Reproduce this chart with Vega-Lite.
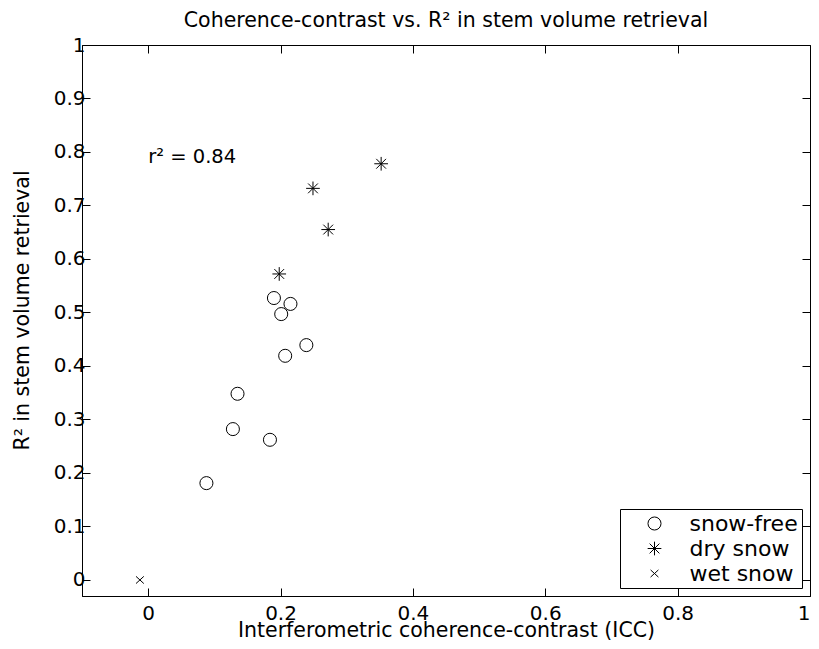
{
  "$schema": "https://vega.github.io/schema/vega-lite/v6.json",
  "width": 728,
  "height": 551,
  "autosize": {"type": "none"},
  "padding": {"left": 82, "top": 45, "right": 9, "bottom": 53},
  "background": "white",
  "title": {
    "text": "Coherence-contrast vs. R² in stem volume retrieval",
    "font": "DejaVu Sans",
    "fontSize": 20.5,
    "fontWeight": "normal",
    "color": "black",
    "offset": 4,
    "anchor": "middle"
  },
  "config": {
    "view": {"stroke": "black", "strokeWidth": 1},
    "axis": {
      "grid": false,
      "domainColor": "black",
      "tickColor": "black",
      "tickSize": -8,
      "labelFont": "DejaVu Sans",
      "labelFontSize": 20,
      "labelColor": "black",
      "titleFont": "DejaVu Sans",
      "titleFontSize": 20.5,
      "titleFontWeight": "normal",
      "titleColor": "black"
    },
    "legend": {
      "orient": "bottom-right",
      "offset": 8,
      "strokeColor": "black",
      "fillColor": "white",
      "padding": 3.5,
      "labelFont": "DejaVu Sans",
      "labelFontSize": 22,
      "labelColor": "black",
      "labelOffset": 24,
      "symbolOffset": 20,
      "symbolStrokeColor": "black",
      "symbolFillColor": "transparent",
      "symbolStrokeWidth": 1,
      "symbolSize": 170,
      "rowPadding": 3
    }
  },
  "datasets": {
    "pts": [
      {"icc": 0.352, "r2": 0.778, "cond": "dry snow"},
      {"icc": 0.249, "r2": 0.732, "cond": "dry snow"},
      {"icc": 0.272, "r2": 0.655, "cond": "dry snow"},
      {"icc": 0.198, "r2": 0.572, "cond": "dry snow"},
      {"icc": 0.190, "r2": 0.527, "cond": "snow-free"},
      {"icc": 0.215, "r2": 0.516, "cond": "snow-free"},
      {"icc": 0.201, "r2": 0.497, "cond": "snow-free"},
      {"icc": 0.239, "r2": 0.439, "cond": "snow-free"},
      {"icc": 0.207, "r2": 0.419, "cond": "snow-free"},
      {"icc": 0.135, "r2": 0.348, "cond": "snow-free"},
      {"icc": 0.128, "r2": 0.282, "cond": "snow-free"},
      {"icc": 0.184, "r2": 0.262, "cond": "snow-free"},
      {"icc": 0.088, "r2": 0.181, "cond": "snow-free"},
      {"icc": -0.0125, "r2": 0.0, "cond": "wet snow"}
    ],
    "note": [{"icc": 0.0, "r2": 0.79, "label": "r² = 0.84"}]
  },
  "resolve": {"axis": {"x": "independent", "y": "independent"}},
  "layer": [
    {
      "data": {"name": "pts"},
      "mark": {"type": "point", "filled": false, "strokeWidth": 1, "color": "black", "opacity": 1, "size": 170},
      "encoding": {
        "x": {
          "field": "icc", "type": "quantitative",
          "scale": {"domain": [-0.1, 1], "nice": false, "zero": false},
          "axis": {"orient": "bottom", "values": [0, 0.2, 0.4, 0.6, 0.8, 1], "format": "~g", "title": "Interferometric coherence-contrast (ICC)", "labelPadding": 15, "titlePadding": -3}
        },
        "y": {
          "field": "r2", "type": "quantitative",
          "scale": {"domain": [-0.03, 1], "nice": false, "zero": false},
          "axis": {"orient": "left", "values": [0, 0.1, 0.2, 0.3, 0.4, 0.5, 0.6, 0.7, 0.8, 0.9, 1], "format": "~g", "title": "R² in stem volume retrieval", "labelPadding": 5, "titlePadding": 21, "titleY": 265}
        },
        "shape": {
          "field": "cond", "type": "nominal",
          "scale": {
            "domain": ["snow-free", "dry snow", "wet snow"],
            "range": [
              "circle",
              "M-1.05,0L1.05,0M0,-1.05L0,1.05M-0.75,-0.75L0.75,0.75M-0.75,0.75L0.75,-0.75",
              "M-0.6,-0.55L0.6,0.55M-0.6,0.55L0.6,-0.55"
            ]
          },
          "legend": {"title": null}
        }
      }
    },
    {
      "data": {"name": "pts"},
      "mark": {"type": "point", "opacity": 0},
      "encoding": {
        "x": {
          "field": "icc", "type": "quantitative",
          "axis": {"orient": "top", "values": [0, 0.2, 0.4, 0.6, 0.8, 1], "labels": false, "ticks": true, "title": null, "domain": false, "minExtent": 0, "maxExtent": 0}
        },
        "y": {
          "field": "r2", "type": "quantitative",
          "axis": {"orient": "right", "values": [0, 0.1, 0.2, 0.3, 0.4, 0.5, 0.6, 0.7, 0.8, 0.9, 1], "labels": false, "ticks": true, "title": null, "domain": false, "minExtent": 0, "maxExtent": 0}
        }
      }
    },
    {
      "data": {"name": "note"},
      "mark": {"type": "text", "align": "left", "baseline": "middle", "font": "DejaVu Sans", "fontSize": 19.5, "color": "black"},
      "encoding": {
        "x": {"field": "icc", "type": "quantitative", "axis": null},
        "y": {"field": "r2", "type": "quantitative", "axis": null},
        "text": {"field": "label"}
      }
    }
  ]
}
